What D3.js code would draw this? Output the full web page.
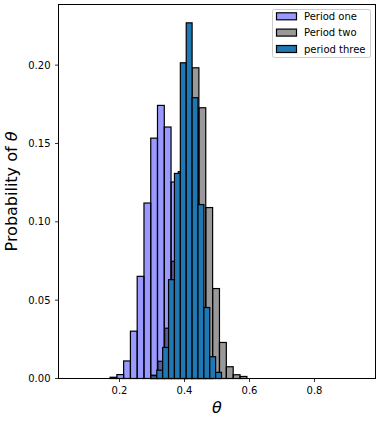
<!DOCTYPE html>
<html>
<head>
<meta charset="utf-8">
<script src="https://cdn.jsdelivr.net/npm/d3@7"></script>
<style>
  body { margin: 0; background: #fff; }
  svg { display: block; }
  text { font-family: "DejaVu Sans", sans-serif; }
</style>
</head>
<body>
<svg id="chart" width="383" height="421"></svg>
<script>
// ---- data ----
const seriesNames = ["Period one", "Period two", "period three"];

const edgesOne = [0.1711, 0.1919, 0.2127, 0.2336, 0.2544, 0.2753, 0.2961, 0.3169, 0.3378,
                  0.3586, 0.3794, 0.4003, 0.4211, 0.4419, 0.4628, 0.4836];
const valuesOne = [0.0008, 0.0025, 0.0112, 0.0302, 0.0652, 0.1120, 0.1534, 0.1743,
                   0.1605, 0.1254, 0.0850, 0.0500, 0.0220, 0.0070, 0.0010];

const edgesTwo = [0.2966, 0.3177, 0.3388, 0.3599, 0.3810, 0.4021, 0.4232, 0.4443,
                  0.4654, 0.4865, 0.5076, 0.5287, 0.5498, 0.5709, 0.5920];
const valuesTwo = [0.0021, 0.0110, 0.0321, 0.0748, 0.1320, 0.1760, 0.1983,
                   0.1728, 0.1091, 0.0574, 0.0230, 0.0075, 0.0024, 0.0013];

const edgesThree = [0.2966, 0.3147, 0.3328, 0.3509, 0.3690, 0.3872, 0.4053,
                    0.4234, 0.4415, 0.4596, 0.4777, 0.4958, 0.5139];
const valuesThree = [0.0018, 0.0053, 0.0198, 0.0631, 0.1309, 0.2015,
                     0.2270, 0.1792, 0.1110, 0.0453, 0.0139, 0.0039];

const xTicks = [0.2, 0.4, 0.6, 0.8];
const yTicks = [0.00, 0.05, 0.10, 0.15, 0.20];
const xDomain = [0.0123, 0.9877];
const yDomain = [0, 0.2387];

// ---- layout ----
const svg = d3.select("#chart");
const L = 58.5, R = 375.5, T = 4.5, B = 378.5;
const x = d3.scaleLinear().domain(xDomain).range([L, R]);
const y = d3.scaleLinear().domain(yDomain).range([B, T]);

const series = [
  { name: seriesNames[0], edges: edgesOne, values: valuesOne, fill: "#0000ff", op: 0.4 },
  { name: seriesNames[1], edges: edgesTwo, values: valuesTwo, fill: "#000000", op: 0.4 },
  { name: seriesNames[2], edges: edgesThree, values: valuesThree, fill: "#1f77b4", op: 1 }
];

const plot = svg.append("g");
series.forEach(s => {
  const bins = s.values.map((v, i) => ({ x0: s.edges[i], x1: s.edges[i + 1], v }));
  const g = plot.append("g");
  g.selectAll("rect.f").data(bins).enter().append("rect")
    .attr("x", d => x(d.x0)).attr("width", d => x(d.x1) - x(d.x0))
    .attr("y", d => y(d.v)).attr("height", d => y(0) - y(d.v))
    .attr("fill", s.fill).attr("fill-opacity", s.op)
    .attr("stroke", "#000").attr("stroke-width", 1.2);
});

// frame
svg.append("rect").attr("x", L).attr("y", T).attr("width", R - L).attr("height", B - T)
  .attr("fill", "none").attr("stroke", "#000").attr("stroke-width", 1);

// x axis
const xAxis = svg.append("g");
xTicks.forEach(t => {
  xAxis.append("line").attr("x1", x(t)).attr("x2", x(t)).attr("y1", B).attr("y2", B + 3.5)
    .attr("stroke", "#000").attr("stroke-width", 0.8);
  xAxis.append("text").attr("x", x(t)).attr("y", B + 15).attr("text-anchor", "middle")
    .attr("font-size", 10).attr("fill", "#000").text(d3.format(".1f")(t));
});
// y axis
const yAxis = svg.append("g");
yTicks.forEach(t => {
  yAxis.append("line").attr("x1", L - 3.5).attr("x2", L).attr("y1", y(t)).attr("y2", y(t))
    .attr("stroke", "#000").attr("stroke-width", 0.8);
  yAxis.append("text").attr("x", L - 8).attr("y", y(t)).attr("dy", "0.36em")
    .attr("text-anchor", "end").attr("font-size", 10).attr("fill", "#000")
    .text(d3.format(".2f")(t));
});

// labels
const xl = svg.append("text").attr("x", (L + R) / 2).attr("y", 412.5)
  .attr("text-anchor", "middle").attr("font-size", 16).attr("fill", "#000");
xl.append("tspan").attr("font-style", "italic").text("θ");

const yl = svg.append("text")
  .attr("transform", `translate(17,${(T + B) / 2}) rotate(-90)`)
  .attr("text-anchor", "middle").attr("font-size", 16).attr("fill", "#000");
yl.append("tspan").text("Probability of ");
yl.append("tspan").attr("font-style", "italic").text("θ");

// legend
const lg = svg.append("g");
lg.append("rect").attr("x", 272.5).attr("y", 9.5).attr("width", 98).attr("height", 48)
  .attr("rx", 2).attr("fill", "#fff").attr("fill-opacity", 0.8)
  .attr("stroke", "#cccccc").attr("stroke-width", 1);
const rowY = [16.3, 32.6, 49.0];
series.forEach((s, i) => {
  lg.append("rect").attr("x", 276.5).attr("y", rowY[i] - 3.5).attr("width", 20).attr("height", 7)
    .attr("fill", s.fill).attr("fill-opacity", s.op)
    .attr("stroke", "#000").attr("stroke-width", 1.2);
  lg.append("text").attr("x", 304).attr("y", rowY[i]).attr("dy", "0.36em")
    .attr("font-size", 10).attr("fill", "#000").text(s.name);
});
</script>
</body>
</html>
